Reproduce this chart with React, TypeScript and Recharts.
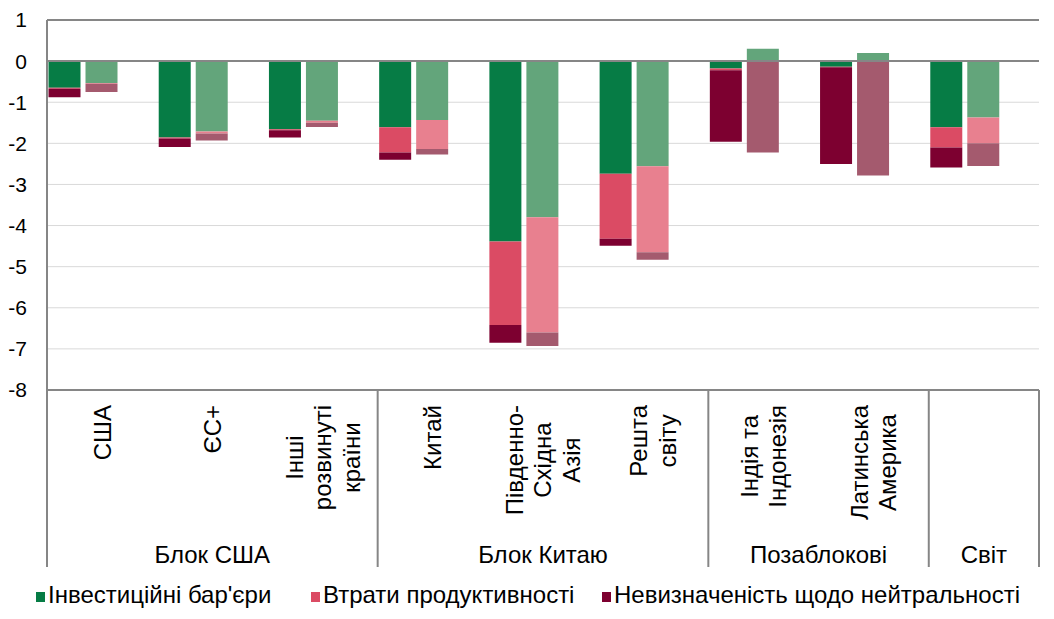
import React from "react";
import { BarChart, Bar, XAxis, YAxis, CartesianGrid, ReferenceLine } from "recharts";

const categories = [
    "США", "ЄС+", "Інші розвинуті країни", "Китай", "Південно-Східна Азія",
    "Решта світу", "Індія та Індонезія", "Латинська Америка", "Світ",
]
// how each category label is broken into lines (the world bar has no label of its own)
const tickLines: string[][] = [
    ["США"], ["ЄС+"], ["Інші", "розвинуті", "країни"], ["Китай"],
    ["Південно-", "Східна", "Азія"], ["Решта", "світу"], ["Індія та", "Індонезія"],
    ["Латинська", "Америка"], [],
]
const groupLabels = ["Блок США", "Блок Китаю", "Позаблокові", "Світ"]
const groupStarts = [0, 3, 6, 8]
const groupSizes = [3, 3, 2, 1]
const yTicks = [1, 0, -1, -2, -3, -4, -5, -6, -7, -8]
const seriesNames = ["Інвестиційні бар'єри", "Втрати продуктивності", "Невизначеність щодо нейтральності"]

// first (solid) bar of every pair
const investA = [-0.65, -1.86, -1.66, -1.61, -4.39, -2.74, -0.18, -0.14, -1.61]
const productA = [-0.02, -0.02, -0.02, -0.61, -2.03, -1.58, -0.04, -0.01, -0.49]
const neutralA = [-0.21, -0.21, -0.18, -0.18, -0.43, -0.17, -1.74, -2.35, -0.49]
// second (pale) bar of every pair
const investB = [-0.53, -1.71, -1.45, -1.43, -3.8, -2.56, 0.3, 0.2, -1.37]
const productB = [-0.02, -0.05, -0.05, -0.71, -2.8, -2.09, 0, 0, -0.63]
const neutralB = [-0.2, -0.17, -0.1, -0.13, -0.33, -0.18, -2.22, -2.78, -0.55]

const colors = ["#067c45", "#db4b64", "#7d0030"]
const paleColors = ["#63a57b", "#e8808f", "#a45a6e"]

const WIDTH = 1054
const Y_AXIS_W = 47
const RIGHT = 15
const PLOT_W = WIDTH - Y_AXIS_W - RIGHT
const FONT = "'Liberation Sans', Arial, sans-serif"
const FS = 24
const GREY = "#868686"

const data = categories.map((name, i) => ({
    name,
    investA: investA[i], productA: productA[i], neutralA: neutralA[i],
    investB: investB[i], productB: productB[i], neutralB: neutralB[i],
    blank: 0,
}))

let ctx: CanvasRenderingContext2D | null = null
const textWidth = (t: string) => {
    if (!ctx) ctx = document.createElement("canvas").getContext("2d")
    if (!ctx) return t.length * FS * 0.5
    ctx.font = `${FS}px ${FONT}`
    return ctx.measureText(t).width
}

function CategoryTick(props: any) {
    const { x, y, payload } = props
    const i = payload.index ?? categories.indexOf(payload.value)
    const band = PLOT_W / categories.length
    const lines = tickLines[i] || []
    const maxLen = Math.max(0, ...lines.map(textWidth))
    const cy = y + 15 + maxLen / 2
    const g = groupStarts.indexOf(i)
    const left = x - band / 2
    return (
        <g>
            {lines.map((t, k) => {
                const bx = x + 8.5 + (k - (lines.length - 1) / 2) * 28.5
                return (
                    <text key={k} x={bx} y={cy} transform={`rotate(-90 ${bx} ${cy})`}
                        textAnchor="middle" fontSize={FS} fill="#000">{t}</text>
                )
            })}
            {g >= 0 && <line x1={left} x2={left} y1={y} y2={y + 177} stroke={GREY} strokeWidth={2} />}
            {g >= 0 && (
                <text x={left + (groupSizes[g] * band) / 2} y={y + 173} textAnchor="middle" fontSize={FS} fill="#000">
                    {groupLabels[g]}
                </text>
            )}
            {i === categories.length - 1 && (
                <line x1={x + band / 2} x2={x + band / 2} y1={y} y2={y + 177} stroke={GREY} strokeWidth={2} />
            )}
        </g>
    )
}

const legendLeft = [36, 311, 602]

export default function App() {
    return (
        <div style={{ position: "absolute", left: 0, top: 0, width: WIDTH, height: 619, background: "#fff", fontFamily: FONT }}>
            <BarChart width={WIDTH} height={575} data={data} stackOffset="sign"
                margin={{ top: 20, right: RIGHT, left: 0, bottom: 0 }} barCategoryGap={1.5} barGap={5}>
                <CartesianGrid vertical={false} stroke="#d9d9d9" />
                <YAxis domain={[-8, 1]} ticks={yTicks} interval={0} width={Y_AXIS_W} tickSize={0} tickMargin={20}
                    axisLine={{ stroke: GREY, strokeWidth: 2 }} tick={{ fill: "#000", fontSize: 21 }} allowDataOverflow />
                <YAxis yAxisId="r" orientation="right" width={0} domain={[-8, 1]} ticks={yTicks} tick={false} tickLine={false}
                    axisLine={{ stroke: GREY, strokeWidth: 2 }} />
                <XAxis dataKey="name" height={185} interval={0} tickSize={0} tickMargin={0} tickLine={false}
                    axisLine={{ stroke: GREY, strokeWidth: 2 }} tick={<CategoryTick />} />
                <Bar dataKey="investA" stackId="a" fill={colors[0]} isAnimationActive={false} />
                <Bar dataKey="productA" stackId="a" fill={colors[1]} isAnimationActive={false} />
                <Bar dataKey="neutralA" stackId="a" fill={colors[2]} isAnimationActive={false} />
                <Bar dataKey="investB" stackId="b" fill={paleColors[0]} isAnimationActive={false} />
                <Bar dataKey="productB" stackId="b" fill={paleColors[1]} isAnimationActive={false} />
                <Bar dataKey="neutralB" stackId="b" fill={paleColors[2]} isAnimationActive={false} />
                <Bar dataKey="blank" stackId="c" fill="none" isAnimationActive={false} legendType="none" />
                <ReferenceLine y={1} stroke={GREY} strokeWidth={2} />
                <ReferenceLine y={0} stroke={GREY} strokeWidth={2} />
            </BarChart>
            {seriesNames.map((s, i) => (
                <div key={s} style={{ position: "absolute", left: legendLeft[i], top: 583, display: "flex", alignItems: "center", fontSize: FS, lineHeight: "24px", whiteSpace: "nowrap" }}>
                    <span style={{ display: "inline-block", width: 9, height: 10, background: colors[i], marginRight: 3, marginTop: 3 }} />
                    <span>{s}</span>
                </div>
            ))}
        </div>
    )
}
